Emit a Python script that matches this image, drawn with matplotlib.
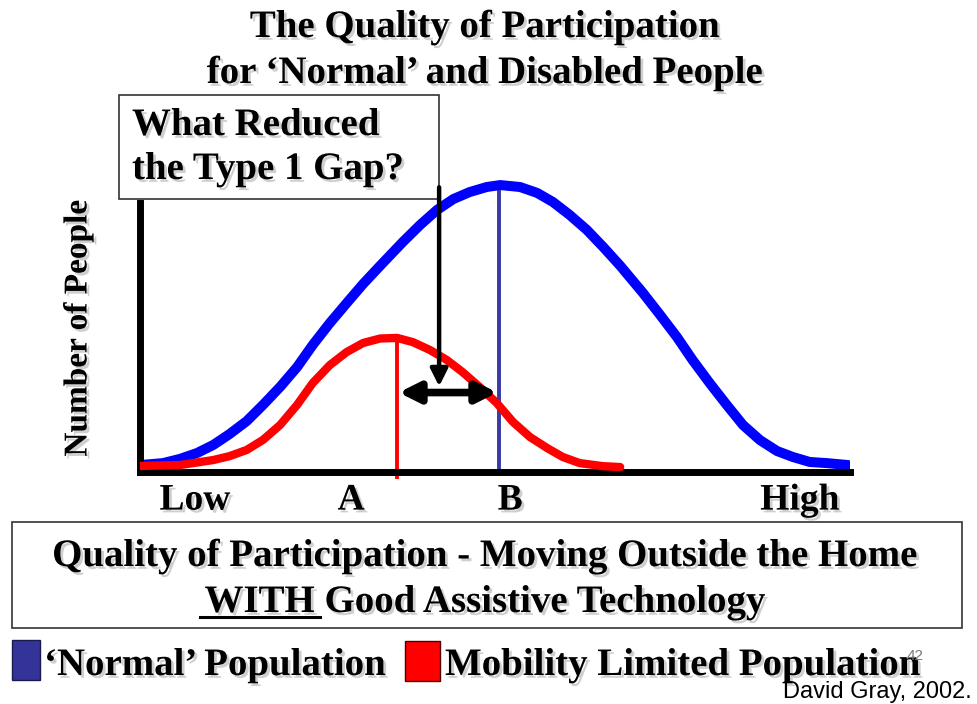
import matplotlib.pyplot as plt
import matplotlib.patheffects as pe
from matplotlib.patches import Rectangle
from matplotlib.lines import Line2D

# curve values (x: Low=0 .. High=100, y: number of people)
normal_x = [0.1, 3.3, 5.7, 8.1, 10.4, 12.7, 15.1, 17.4, 19.8, 22.2, 24.4, 26.8,
            29.2, 31.5, 33.9, 37.1, 39.5, 41.9, 44.2, 46.5, 48.9, 50.8, 53.6,
            56.0, 58.2, 60.6, 63.0, 65.3, 67.7, 70.9, 73.3, 75.7, 77.9, 80.3,
            82.7, 85.0, 87.4, 89.8, 92.0, 94.4, 96.8, 99.8]
normal_y = [2.3, 3.0, 4.5, 6.6, 9.5, 13.4, 18.0, 23.8, 30.2, 37.3, 45.2, 53.0,
            60.2, 67.0, 73.5, 82.0, 88.0, 93.4, 97.3, 99.8, 101.6, 102.3, 101.6,
            99.5, 96.3, 91.6, 86.3, 80.2, 73.5, 63.8, 56.0, 48.0, 39.8, 31.6,
            23.8, 16.6, 11.2, 7.3, 5.2, 3.4, 3.0, 2.3]

limited_x = [0.1, 5.7, 10.4, 12.7, 15.1, 17.4, 19.8, 22.2, 24.4, 26.8, 29.2,
             31.5, 33.9, 36.3, 38.5, 40.9, 43.3, 45.5, 47.9, 50.3, 52.6, 55.0,
             57.4, 59.6, 62.0, 65.3, 67.7]
limited_y = [2.0, 2.3, 4.1, 5.5, 7.7, 11.3, 16.6, 23.8, 31.6, 38.0, 42.7,
             45.9, 47.5, 47.7, 46.2, 43.4, 39.8, 35.5, 30.2, 24.5, 17.7, 12.3,
             8.4, 5.2, 3.0, 1.9, 1.6]

peak_a = 36.3   # mobility limited mean
peak_b = 50.6   # normal mean

tick_pos = [7.8, 29.8, 52.2, 93.0]
tick_labels = ['Low', 'A', 'B', 'High']

W, H = 977, 704
fig = plt.figure(figsize=(W / 100, H / 100), dpi=100)

def fx(px):
    return px / W

def fy(py):
    return 1 - py / H

shadow = [pe.SimplePatchShadow(offset=(2, -2), shadow_rgbFace='#bbbbbb', alpha=0.7), pe.Normal()]
serif = dict(family='Liberation Serif', weight='bold', color='black')

ax = fig.add_axes([fx(139.5), fy(471.5), 710 / W, 296.8 / H])
ax.set_xlim(0, 100)
ax.set_ylim(0, 106)
for s in ['top', 'right']:
    ax.spines[s].set_visible(False)
for s in ['left', 'bottom']:
    ax.spines[s].set_linewidth(5)
ax.spines['left'].set_bounds(0, 96)
ax.set_yticks([])
ax.set_xticks(tick_pos)
ax.set_xticklabels(tick_labels, fontsize=27, path_effects=shadow, **serif)
ax.tick_params(axis='x', length=0, pad=8)

ax.plot(normal_x, normal_y, color='#0000ff', lw=7.2, solid_capstyle='round', zorder=2)
ax.plot(limited_x, limited_y, color='#ff0000', lw=6, solid_capstyle='round', zorder=3)
ax.plot([peak_b, peak_b], [0, max(normal_y) - 1], color='#3838a8', lw=2.8, zorder=1)
ax.plot([peak_a, peak_a], [-2, max(limited_y)], color='#ff0000', lw=2.8, zorder=1, clip_on=False)

# gap arrow between A and B
ax.annotate('', xy=(peak_a + 0.2, 28.2), xytext=(peak_b - 0.2, 28.2),
            arrowprops=dict(arrowstyle='<|-|>', color='black', lw=5.5,
                            mutation_scale=30, shrinkA=0, shrinkB=0), zorder=6)

# question box with its pointer
ax.add_patch(Rectangle((fx(119), fy(199)), (439 - 119) / W, (199 - 95) / H,
                       transform=fig.transFigure, facecolor='white', edgecolor='#333333',
                       lw=1.2, clip_on=False, zorder=4))
ax.annotate('', xy=(42.2, 30.4), xytext=(42.2, 101.5),
            arrowprops=dict(arrowstyle='-|>', color='black', lw=3.2,
                            mutation_scale=26, shrinkA=0, shrinkB=0),
            annotation_clip=False, zorder=6)
ax.text(fx(132), fy(135), 'What Reduced', transform=fig.transFigure, fontsize=28,
        ha='left', va='baseline', path_effects=shadow, zorder=7, **serif)
ax.text(fx(132), fy(179), 'the Type 1 Gap?', transform=fig.transFigure, fontsize=28,
        ha='left', va='baseline', path_effects=shadow, zorder=7, **serif)

# title
fig.text(fx(485), fy(37), 'The Quality of Participation', fontsize=28, ha='center',
         va='baseline', path_effects=shadow, **serif)
fig.text(fx(485), fy(83), 'for \u2018Normal\u2019 and Disabled People', fontsize=28,
         ha='center', va='baseline', path_effects=shadow, **serif)

fig.text(fx(78), fy(328), 'Number of People', fontsize=24, rotation=90,
         ha='center', va='center', path_effects=shadow, **serif)

# caption box
fig.add_artist(Rectangle((fx(12), fy(628)), (962 - 12) / W, (628 - 522) / H,
                         transform=fig.transFigure, facecolor='white',
                         edgecolor='#333333', lw=1.2))
fig.text(fx(485), fy(566), 'Quality of Participation - Moving Outside the Home',
         fontsize=28, ha='center', va='baseline', path_effects=shadow, **serif)
fig.text(fx(485), fy(612), 'WITH Good Assistive Technology',
         fontsize=28, ha='center', va='baseline', path_effects=shadow, **serif)
fig.add_artist(Line2D([fx(200), fx(320)], [fy(617), fy(617)], color='black', lw=2.2))

# legend
fig.add_artist(Rectangle((fx(12), fy(680)), 28 / W, 40 / H, transform=fig.transFigure,
                         facecolor='#333399', edgecolor='#1a1a4d', lw=1))
fig.text(fx(44), fy(675), '\u2018Normal\u2019 Population', fontsize=28,
         ha='left', va='baseline', path_effects=shadow, **serif)
fig.add_artist(Rectangle((fx(405), fy(681)), 35 / W, 40 / H, transform=fig.transFigure,
                         facecolor='#ff0000', edgecolor='#4d0000', lw=1))
fig.text(fx(445), fy(675), 'Mobility Limited Population', fontsize=28,
         ha='left', va='baseline', path_effects=shadow, **serif)

fig.text(fx(915), fy(660), '42', fontsize=11, color='#777777', family='Liberation Sans',
         ha='center', va='baseline')
fig.text(fx(972), fy(698), 'David Gray, 2002.', fontsize=17, color='black',
         family='Liberation Sans', ha='right', va='baseline')

fig.savefig('out.png', dpi=100, facecolor='white')
